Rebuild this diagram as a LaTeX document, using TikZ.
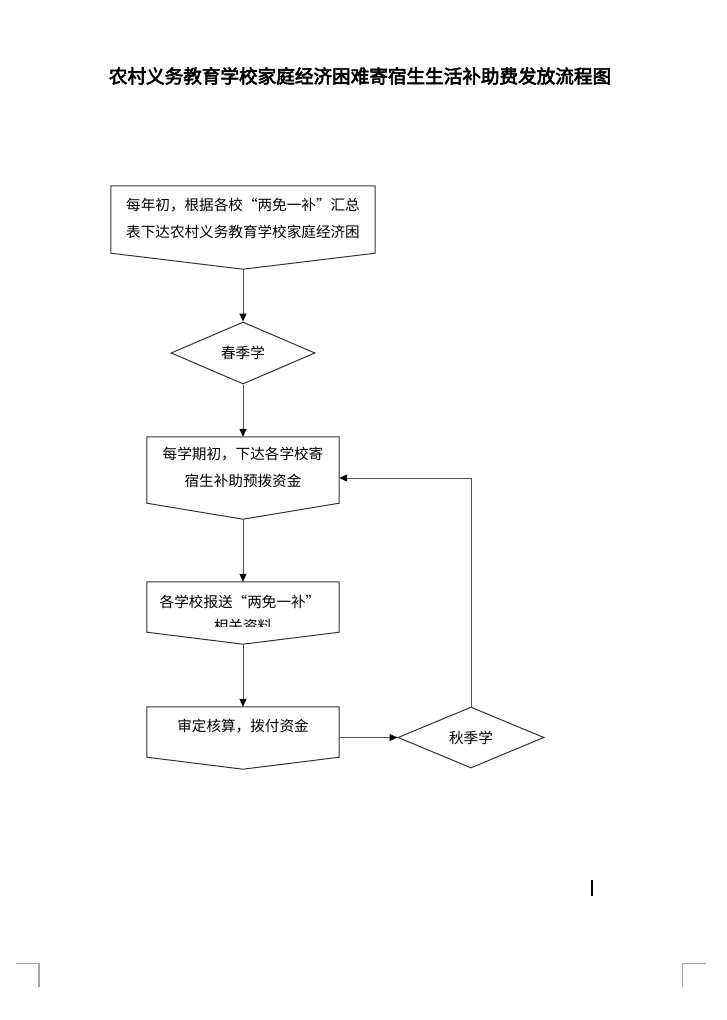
\documentclass[tikz,border=0pt]{standalone}
\usepackage{fontspec}
\usetikzlibrary{shapes.geometric,calc,arrows.meta}
\newfontfamily\cjk[CharacterWidth=Full]{Noto Sans CJK SC}
\newfontfamily\cjktitle[FakeBold=3.2]{Noto Sans CJK SC}
\definecolor{boxline}{HTML}{333333}
\definecolor{connline}{HTML}{555555}
\definecolor{markgray}{HTML}{A6A6A6}
\tikzset{
  boxarea/.style={draw=none,inner sep=0pt,minimum width=#1},
  outline/.style={draw=boxline,line width=1pt,line join=miter},
  boxtext/.style={font=\cjk\fontsize{14.6}{27}\selectfont,align=center,inner sep=0pt,text=black},
  decision/.style={diamond,draw=boxline,line width=1pt,inner sep=0pt,font=\cjk\fontsize{14.6}{18}\selectfont},
  conn/.style={draw=connline,line width=1pt,-{Triangle[length=8pt,width=7pt,color=black]}},
  cornermark/.style={draw=markgray,line width=1.3pt},
}
\begin{document}
\begin{tikzpicture}[x=1pt,y=-1pt]
\useasboundingbox (0,0) rectangle (726,1020);
\fill[white] (0,0) rectangle (726,1020);

% title
\node[font=\cjktitle\fontsize{18.6}{20}\selectfont,inner sep=0pt] (title) at (360,76) {农村义务教育学校家庭经济困难寄宿生生活补助费发放流程图};

% box 1
\node[boxarea=264pt,minimum height=67pt] (b1) at (243,219.5) {};
\draw[outline] (b1.north west) -- (b1.north east) -- (b1.south east) -- ($(b1.south)+(0,16)$) coordinate (b1tip) -- (b1.south west) -- cycle;
\node[boxtext] (b1t) at (243,218.5) {每年初，根据各校“两免一补”汇总\\表下达农村义务教育学校家庭经济困};

% diamond 1
\node[decision,minimum width=144pt,minimum height=62pt] (d1) at (243,353) {春季学};

% box 2
\node[boxarea=192pt,minimum height=66pt] (b2) at (243,470) {};
\draw[outline] (b2.north west) -- (b2.north east) -- (b2.south east) -- ($(b2.south)+(0,16)$) coordinate (b2tip) -- (b2.south west) -- cycle;
\node[boxtext] (b2t) at (243,467) {每学期初，下达各学校寄\\宿生补助预拨资金};
\coordinate (b2in) at ($(b2.east)+(0,8)$);

% box 3
\node[boxarea=192pt,minimum height=50pt] (b3) at (243,607) {};
\draw[outline] (b3.north west) -- (b3.north east) -- (b3.south east) -- ($(b3.south)+(0,12)$) coordinate (b3tip) -- (b3.south west) -- cycle;
\node[boxtext] (b3t) at (240,602) {各学校报送“两免一补”};
\begin{scope}
  \clip (150,612) rectangle (336,626);
  \node[boxtext] (b3u) at (243,625.5) {相关资料};
\end{scope}

% box 4
\node[boxarea=192pt,minimum height=50pt] (b4) at (243,732) {};
\draw[outline] (b4.north west) -- (b4.north east) -- (b4.south east) -- ($(b4.south)+(0,12)$) coordinate (b4tip) -- (b4.south west) -- cycle;
\node[boxtext] (b4t) at (243,726) {审定核算，拨付资金};

% diamond 2
\node[decision,minimum width=146pt,minimum height=61pt] (d2) at (471,737.5) {秋季学};

% connectors
\draw[conn] (b1tip) -- (d1.north);
\draw[conn] (d1.south) -- (b2.north);
\draw[conn] (b2tip) -- (b3.north);
\draw[conn] (b3tip) -- (b4.north);
\draw[conn] (b4.east |- d2.west) -- (d2.west);
\draw[conn] (d2.north) |- (b2in);

% cursor mark
\draw[black,line width=2pt] (592,880) coordinate (cur1) -- (592,896) coordinate (cur2);

% corner marks
\draw[cornermark] (16,963.5) coordinate (cl1) -- (39,963.5) coordinate (cl2) -- (39,987) coordinate (cl3);
\draw[cornermark] (706,963.5) coordinate (cr1) -- (682.5,963.5) coordinate (cr2) -- (682.5,987) coordinate (cr3);
\end{tikzpicture}
\end{document}
